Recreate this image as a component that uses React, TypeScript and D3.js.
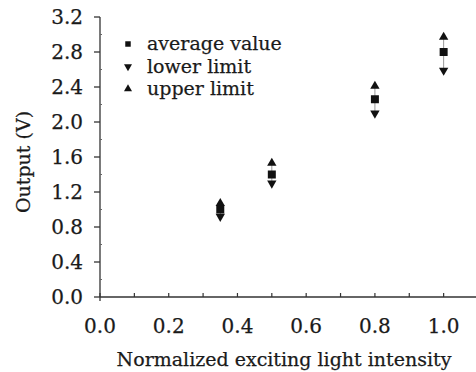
import React from "react";
import * as d3 from "d3";

const xValues = [0.35, 0.5, 0.8, 1.0];
const avgValues = [1.0, 1.4, 2.26, 2.8];
const lowerValues = [0.92, 1.3, 2.1, 2.59];
const upperValues = [1.07, 1.53, 2.41, 2.97];
const xTicks = [0, 0.2, 0.4, 0.6, 0.8, 1.0];
const xMinor = [0.1, 0.3, 0.5, 0.7, 0.9];
const yTicks = [0, 0.4, 0.8, 1.2, 1.6, 2.0, 2.4, 2.8, 3.2];
const yMinor = [0.2, 0.6, 1.0, 1.4, 1.8, 2.2, 2.6, 3.0];
const legendLabels = ["average value", "lower limit", "upper limit"];

const W = 476;
const H = 372;
const FONT = "'DejaVu Serif', 'Liberation Serif', serif";

export default function App() {
  const x = d3.scaleLinear().domain([0, 1.1]).range([100, 478]);
  const y = d3.scaleLinear().domain([0, 3.2]).range([297, 17]);
  const square = d3.symbol().type(d3.symbolSquare).size(64)();
  const triUp = d3.symbol().type(d3.symbolTriangle).size(38)();
  const c = "#111";
  const axisC = "#333";
  const txt = "#1a1a1a";
  const ts = { stroke: txt, strokeWidth: 0.25 };
  return (
    <svg
      width={W}
      height={H}
      style={{ position: "absolute", left: 0, top: 0, background: "#fff" }}
      fontFamily={FONT}
    >
      {/* axes */}
      <line x1={x(0)} x2={x(0)} y1={y(3.2)} y2={y(0) + 4} stroke={axisC} strokeWidth={1.3} />
      <line x1={x(0)} x2={x(1.1)} y1={y(0)} y2={y(0)} stroke={axisC} strokeWidth={1.3} />
      {yTicks.map((t) => (
        <g key={"yt" + t}>
          <line x1={x(0) - 6} x2={x(0)} y1={y(t)} y2={y(t)} stroke={axisC} strokeWidth={1.3} />
          <text x={83} y={y(t)} dy="0.36em" textAnchor="end" fontSize={20} fill={txt} {...ts}>
            {t.toFixed(1)}
          </text>
        </g>
      ))}
      {yMinor.map((t) => (
        <line key={"ym" + t} x1={x(0)} x2={x(0) + 2} y1={y(t)} y2={y(t)} stroke="#666" strokeWidth={1} />
      ))}
      {xTicks.map((t) => (
        <g key={"xt" + t}>
          <line x1={x(t)} x2={x(t)} y1={y(0)} y2={y(0) - 4} stroke={axisC} strokeWidth={1.2} />
          <text x={x(t)} y={333} textAnchor="middle" fontSize={20} fill={txt} {...ts}>
            {t.toFixed(1)}
          </text>
        </g>
      ))}
      {xMinor.map((t) => (
        <line key={"xm" + t} x1={x(t)} x2={x(t)} y1={y(0)} y2={y(0) - 4} stroke={axisC} strokeWidth={1.2} />
      ))}
      <text x={284} y={366} textAnchor="middle" fontSize={19} fill={txt} {...ts}>
        Normalized exciting light intensity
      </text>
      <text
        transform={`translate(30, ${162}) rotate(-90)`}
        textAnchor="middle"
        fontSize={19}
        fill={txt}
        {...ts}
      >
        Output (V)
      </text>
      {/* error bars */}
      {xValues.map((v, i) => (
        <line
          key={"eb" + i}
          x1={x(v)}
          x2={x(v)}
          y1={y(lowerValues[i])}
          y2={y(upperValues[i])}
          stroke="#999"
          strokeWidth={1}
        />
      ))}
      {xValues.map((v, i) => (
        <g key={"pt" + i}>
          <path d={triUp} transform={`translate(${x(v)},${y(upperValues[i])})`} fill={c} />
          <path d={triUp} transform={`translate(${x(v)},${y(lowerValues[i])}) rotate(180)`} fill={c} />
          <path d={square} transform={`translate(${x(v)},${y(avgValues[i])})`} fill={c} />
        </g>
      ))}
      {/* legend */}
      {legendLabels.map((lab, i) => {
        const ly = 44 + i * 22.5;
        const d = i === 0 ? d3.symbol().type(d3.symbolSquare).size(30)() : d3.symbol().type(d3.symbolTriangle).size(28)();
        const rot = i === 1 ? " rotate(180)" : "";
        return (
          <g key={"lg" + i}>
            <path d={d} transform={`translate(128,${ly})${rot}`} fill={c} />
            <text x={147} y={ly} dy="0.33em" fontSize={19} fill={txt} {...ts}>
              {lab}
            </text>
          </g>
        );
      })}
    </svg>
  );
}
